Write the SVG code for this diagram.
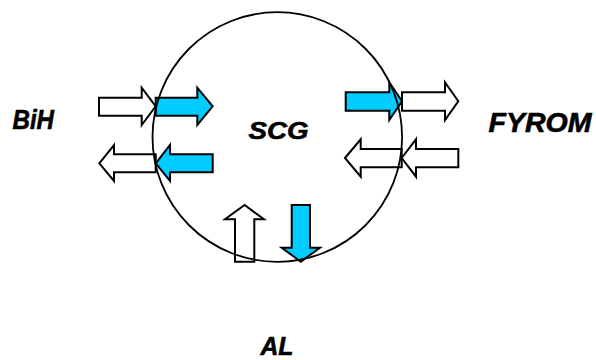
<svg xmlns="http://www.w3.org/2000/svg" width="596" height="360" viewBox="0 0 596 360">
<style>
.w{fill:#ffffff;stroke:#000;stroke-width:2;stroke-linejoin:miter}
.b{fill:#00ccff;stroke:#000;stroke-width:2;stroke-linejoin:miter}
.lbl{font-family:"Liberation Sans",Arial,sans-serif;font-weight:bold;font-style:italic;fill:#000;stroke:#000;stroke-width:0.6}
</style>
<rect width="596" height="360" fill="#fff"/>
<g id="connectors">
<polygon id="a1" class="w" points="99,97.7 141.7,97.7 141.7,87.7 155.7,106.3 141.7,125 141.7,115.7 99,115.7"/>
<polygon id="a2" class="b" points="155.7,97.7 197.3,97.7 197.3,87.7 212.7,106.3 197.3,125 197.3,115.7 155.7,115.7"/>
<polygon id="a3" class="w" points="99.3,163.3 114,145 114,154.3 155.7,154.3 155.7,172.3 114,172.3 114,181"/>
<polygon id="a4" class="b" points="155.7,163.3 170,145 170,154.3 212.7,154.3 212.7,172.3 170,172.3 170,181"/>
<polygon id="a5" class="b" points="345.7,92.3 389.3,92.3 389.3,82.3 402,101.3 389.3,120 389.3,110.7 345.7,110.7"/>
<polygon id="a6" class="w" points="402,92.3 445,92.3 445,82.3 458.3,101.3 445,120 445,110.7 402,110.7"/>
<polygon id="a7" class="w" points="345,158 360.7,139.3 360.7,149 401.7,149 401.7,167.3 360.7,167.3 360.7,176.7"/>
<polygon id="a8" class="w" points="401.7,158 416,139.3 416,149 458.3,149 458.3,167.3 416,167.3 416,176.7"/>
<polygon id="a9" class="w" points="235,261.7 235,219.3 225,219.3 244.6,205 264,219.3 254.3,219.3 254.3,261.7"/>
<polygon id="a10" class="b" points="291.7,205 310,205 310,247.7 320,247.7 300.8,261.7 281.7,247.7 291.7,247.7"/>
</g>
<g id="SCG">
<circle cx="277.3" cy="137" r="124.8" fill="none" stroke="#000" stroke-width="1.8"/>
<text class="lbl" x="248.5" y="138.5" font-size="24.5" textLength="60" lengthAdjust="spacingAndGlyphs">SCG</text>
</g>
<g id="BiH"><text class="lbl" x="12.5" y="128.5" font-size="27" textLength="41.5" lengthAdjust="spacingAndGlyphs">BiH</text></g>
<g id="FYROM"><text class="lbl" x="488.5" y="131.8" font-size="27" textLength="103" lengthAdjust="spacingAndGlyphs">FYROM</text></g>
<g id="AL"><text class="lbl" x="260.5" y="355" font-size="26" textLength="33" lengthAdjust="spacingAndGlyphs">AL</text></g>
</svg>
